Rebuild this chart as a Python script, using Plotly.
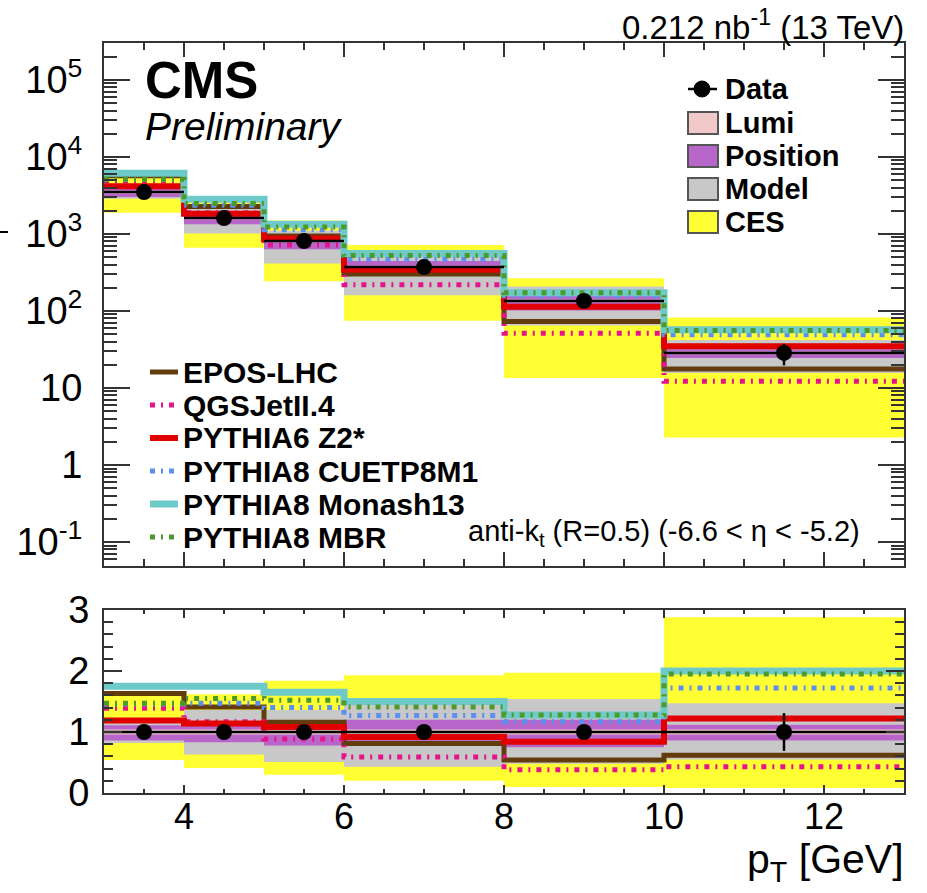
import plotly.graph_objects as go

# ---- binning -------------------------------------------------------------
pt_edges = [3, 4, 5, 6, 8, 10, 13]
pt_centres = [3.5, 4.5, 5.5, 7.0, 9.0, 11.5]
pt_halfwidth = [0.5, 0.5, 0.5, 1.0, 1.0, 1.5]

# ---- measurement ---------------------------------------------------------
data_xs = [3500, 1610, 811, 372, 135, 28.5]
data_stat_rel = [0.01, 0.01, 0.01, 0.01, 0.06, 0.31]

# ---- cumulative systematic bands, relative to the measurement ------------
ces_lo = [0.54, 0.41, 0.30, 0.20, 0.10, 0.08]
ces_hi = [1.61, 1.62, 1.84, 1.93, 1.97, 2.88]
model_lo = [0.82, 0.63, 0.51, 0.43, 0.48, 0.55]
model_hi = [1.17, 1.36, 1.36, 1.46, 1.54, 1.47]
position_lo = [0.86, 0.83, 0.78, 0.82, 0.75, 0.86]
position_hi = [1.11, 1.12, 1.10, 1.20, 1.20, 1.12]
lumi_lo = [0.96, 0.96, 0.96, 0.96, 0.96, 0.96]
lumi_hi = [1.04, 1.04, 1.04, 1.04, 1.04, 1.04]

# ---- generator predictions, MC / Data ------------------------------------
epos_lhc = [1.63, 1.41, 1.16, 0.81, 0.54, 0.62]
qgsjet = [1.39, 1.17, 0.885, 0.59, 0.38, 0.43]
pythia6_z2 = [1.19, 1.14, 1.08, 0.92, 0.84, 1.22]
pythia8_cuetp8m1 = [1.46, 1.47, 1.40, 1.27, 1.17, 1.72]
pythia8_monash = [1.75, 1.75, 1.65, 1.50, 1.28, 2.00]
pythia8_mbr = [1.47, 1.55, 1.52, 1.41, 1.28, 1.95]

FONT = "Liberation Sans, Arial, Helvetica, sans-serif"
DOTDASH = "5px,6px,2px,6px"

bands = [
    ("CES", ces_lo, ces_hi, "#ffff33"),
    ("Model", model_lo, model_hi, "#c8c8c8"),
    ("Position", position_lo, position_hi, "#b765c9"),
    ("Lumi", lumi_lo, lumi_hi, "#f1c9c9"),
]

models = [
    ("EPOS-LHC", epos_lhc, "#633c0e", 5, "solid"),
    ("QGSJetII.4", qgsjet, "#e5148c", 5, DOTDASH),
    ("PYTHIA6 Z2*", pythia6_z2, "#e00000", 6, "solid"),
    ("PYTHIA8 CUETP8M1", pythia8_cuetp8m1, "#5b90f0", 5, DOTDASH),
    ("PYTHIA8 Monash13", pythia8_monash, "#6ec9c9", 7, "solid"),
    ("PYTHIA8 MBR", pythia8_mbr, "#4c9a2a", 5, DOTDASH),
]

fig = go.Figure()


def step(vals):
    return list(vals) + [vals[-1]]


for xa, ya, scale in (("x", "y", data_xs), ("x2", "y2", [1.0] * 6)):
    # uncertainty bands drawn as per-bin boxes
    for name, lo, hi, col in bands:
        base = [s * l for s, l in zip(scale, lo)]
        height = [s * (h - l) for s, l, h in zip(scale, lo, hi)]
        fig.add_trace(go.Bar(
            x=pt_centres, y=height, base=base,
            width=[2 * w for w in pt_halfwidth],
            marker=dict(color=col, line=dict(width=0)),
            xaxis=xa, yaxis=ya, name=name, showlegend=False,
        ))
    # generator curves as step histograms
    for name, ratio, col, lw, dash in models:
        vals = [s * r for s, r in zip(scale, ratio)]
        fig.add_trace(go.Scatter(
            x=pt_edges, y=step(vals), mode="lines", line_shape="hv",
            line=dict(color=col, width=lw, dash=dash),
            xaxis=xa, yaxis=ya, name=name, showlegend=False,
        ))
    # measurement
    yvals = [s * 1.0 for s in scale]
    fig.add_trace(go.Scatter(
        x=pt_centres, y=yvals, mode="markers",
        marker=dict(color="black", size=16),
        error_x=dict(type="data", array=pt_halfwidth, color="black",
                     thickness=2.5, width=0),
        error_y=dict(type="data", array=[v * e for v, e in zip(yvals, data_stat_rel)],
                     color="black", thickness=2.5, width=0),
        xaxis=xa, yaxis=ya, name="Data", showlegend=False,
    ))

# ---- geometry helpers (pixel -> paper) ----------------------------------
W, H = 927, 893
L, R, T, B = 104, 904, 43, 793
PW, PH = R - L, B - T


def px(x):
    return (x - L) / PW


def py(y):
    return (B - y) / PH


axis_common = dict(showline=True, linecolor="#333333", linewidth=2, mirror="allticks",
                   ticks="inside", tickcolor="#333333", tickwidth=1.5,
                   showgrid=False, zeroline=False)

top_lo = py(566)
bot_hi = py(610)
tick_font = dict(family=FONT, size=38, color="black")

fig.update_layout(
    width=W, height=H,
    margin=dict(l=L, r=W - R, t=T, b=H - B),
    paper_bgcolor="white", plot_bgcolor="white",
    barmode="overlay", showlegend=False,
    xaxis=dict(domain=[0, 1], anchor="y", range=[3, 13], dtick=2, tick0=0,
               ticklen=14, showticklabels=False, tickfont=tick_font,
               minor=dict(dtick=0.5, ticklen=7, ticks="inside", tickcolor="#333333"),
               **axis_common),
    yaxis=dict(domain=[top_lo, 1], anchor="x", type="log", range=[-1.312, 5.48],
               tickmode="array", tickvals=[0.1, 1, 10, 100, 1000, 1e4, 1e5],
               ticktext=["10<sup>-1</sup>", "1", "10", "10<sup>2</sup>", "10<sup>3</sup>",
                         "10<sup>4</sup>", "10<sup>5</sup>"],
               ticklen=26, ticklabelstandoff=12, tickfont=tick_font,
               minor=dict(dtick="D1", ticklen=13, ticks="inside", tickcolor="#333333"),
               **axis_common),
    xaxis2=dict(domain=[0, 1], anchor="y2", range=[3, 13], dtick=2, tick0=0,
                ticklen=8, ticklabelstandoff=-9,
                tickfont=dict(family=FONT, size=36, color="black"),
                minor=dict(dtick=0.5, ticklen=4, ticks="inside", tickcolor="#333333"),
                **axis_common),
    yaxis2=dict(domain=[0, bot_hi], anchor="x2", range=[0, 3], dtick=1, tick0=0,
                ticklen=18, ticklabelstandoff=5, tickfont=tick_font,
                minor=dict(dtick=0.2, ticklen=9, ticks="inside", tickcolor="#333333"),
                **axis_common),
)

ann = []
shapes = []


def text(x, y, s, size, anchor="left", **kw):
    ann.append(dict(x=px(x), y=py(y), xref="paper", yref="paper", text=s,
                    showarrow=False, xanchor=anchor, yanchor="middle",
                    font=dict(family=FONT, size=size, color="black"), **kw))


# headers
text(906, 25, "0.212 nb<sup>-1</sup> (13 TeV)", 33, anchor="right")
text(143, 80, "<b>CMS</b>", 51)
text(143, 127, "<i>Preliminary</i>", 39)
text(862, 533, "anti-k<sub>t</sub> (R=0.5) (-6.6 < η < -5.2)", 29, anchor="right")
text(906, 862, "p<sub>T</sub> [GeV]", 41, anchor="right")

# uncertainty legend
shapes.append(dict(type="line", xref="paper", yref="paper",
                   x0=px(688), x1=px(717), y0=py(89), y1=py(89),
                   line=dict(color="black", width=2.5)))
shapes.append(dict(type="circle", xref="paper", yref="paper",
                   x0=px(694), x1=px(710), y0=py(81), y1=py(97),
                   fillcolor="black", line=dict(color="black", width=1)))
text(723, 89, "<b>Data</b>", 29)
box_rows = [("Lumi", "#f1c9c9", 123), ("Position", "#b765c9", 156),
            ("Model", "#c8c8c8", 189), ("CES", "#ffff33", 222)]
for name, col, yc in box_rows:
    shapes.append(dict(type="rect", xref="paper", yref="paper",
                       x0=px(688), x1=px(718), y0=py(yc + 11), y1=py(yc - 11),
                       fillcolor=col, line=dict(color="#555555", width=2)))
    text(723, yc, f"<b>{name}</b>", 29)

# generator legend
for i, (name, _, col, lw, dash) in enumerate(models):
    yc = 372 + 33 * i
    shapes.append(dict(type="line", xref="paper", yref="paper",
                       x0=px(150), x1=px(178), y0=py(yc), y1=py(yc),
                       line=dict(color=col, width=lw, dash=dash)))
    text(181, yc, f"<b>{name}</b>", 30)

# tail of the clipped vertical axis title
shapes.append(dict(type="line", xref="paper", yref="paper",
                   x0=px(0), x1=px(8), y0=py(232), y1=py(232),
                   line=dict(color="black", width=2)))

fig.update_layout(annotations=ann, shapes=shapes)
fig.write_html("out.html")
